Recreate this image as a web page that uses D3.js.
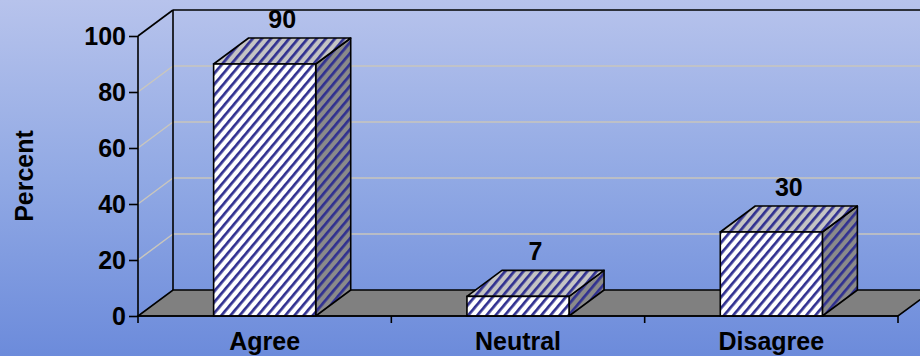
<!DOCTYPE html>
<html>
<head>
<meta charset="utf-8">
<script src="https://cdn.jsdelivr.net/npm/d3@7"></script>
<style>
  html, body { margin: 0; padding: 0; background: #8ca4e2; }
  svg { display: block; }
  text { font-family: "Liberation Sans", Arial, sans-serif; font-weight: bold; fill: #000; }
</style>
</head>
<body>
<svg id="chart" width="920" height="356"></svg>
<script>
// Survey responses (percent)
const categories = ["Agree", "Neutral", "Disagree"];
const values = [90, 7, 30];
const yTicks = [0, 20, 40, 60, 80, 100];
const yLabel = "Percent";

(function () {
const W = 920, H = 356;
const svg = d3.select("#chart");

// plot frame: front plane and depth offset of the 3D box
const plotLeft = 138, plotRight = 898, plotBottom = 316, plotTop = 36;
const depthX = 35, depthY = -26;

const x = d3.scaleBand().domain(categories).range([plotLeft, plotRight]).padding(0);
const y = d3.scaleLinear().domain([0, 100]).range([plotBottom, plotTop]);
const barW = x.bandwidth() * 0.403;

const defs = svg.append("defs");

// background gradient
const bg = defs.append("linearGradient").attr("id", "bg")
  .attr("x1", 0).attr("y1", 0).attr("x2", 0).attr("y2", 1);
bg.append("stop").attr("offset", "0%").attr("stop-color", "#b7c3ec");
bg.append("stop").attr("offset", "50%").attr("stop-color", "#91a9e4");
bg.append("stop").attr("offset", "100%").attr("stop-color", "#6c8bdb");
svg.append("rect").attr("width", W).attr("height", H).attr("fill", "url(#bg)");

// diagonal stripe fills for the bar faces
const period = 7.0;
function stripes(id, base) {
  const p = defs.append("pattern").attr("id", id)
    .attr("patternUnits", "userSpaceOnUse")
    .attr("width", period).attr("height", period)
    .attr("patternTransform", "rotate(40)");
  p.append("rect").attr("width", period).attr("height", period).attr("fill", base);
  p.append("rect").attr("x", 0).attr("width", 2.7).attr("height", period).attr("fill", "#303090");
}
stripes("sFront", "#ffffff");
stripes("sTop", "#c4c4c4");
stripes("sSide", "#8a8a8a");

const grid = svg.append("g");
const gridVals = yTicks.filter(v => v > 0 && v < 100);

// gridlines on the left wall and the back wall
grid.selectAll("line.side").data(gridVals).join("line").attr("class", "side")
  .attr("x1", plotLeft).attr("y1", d => y(d))
  .attr("x2", plotLeft + depthX).attr("y2", d => y(d) + depthY)
  .attr("stroke", "#c9c6bd").attr("stroke-width", 1.5);
grid.selectAll("line.back").data(gridVals).join("line").attr("class", "back")
  .attr("x1", plotLeft + depthX).attr("y1", d => y(d) + depthY)
  .attr("x2", W).attr("y2", d => y(d) + depthY)
  .attr("stroke", "#c9c6bd").attr("stroke-width", 1.5);

// frame edges of the walls
const frame = svg.append("g").attr("stroke", "#000").attr("stroke-width", 1.6).attr("fill", "none");
frame.append("line")
  .attr("x1", plotLeft).attr("y1", y(100)).attr("x2", plotLeft + depthX).attr("y2", y(100) + depthY);
frame.append("line")
  .attr("x1", plotLeft + depthX).attr("y1", y(100) + depthY).attr("x2", W).attr("y2", y(100) + depthY);
frame.append("line")
  .attr("x1", plotLeft + depthX).attr("y1", y(100) + depthY).attr("x2", plotLeft + depthX).attr("y2", y(0) + depthY);

// floor
svg.append("path")
  .attr("d", `M${plotLeft},${y(0)} L${plotRight},${y(0)} L${plotRight + depthX},${y(0) + depthY} L${plotLeft + depthX},${y(0) + depthY} Z`)
  .attr("fill", "#808080").attr("stroke", "#000").attr("stroke-width", 1.6);

// bars as 3D boxes
const bars = svg.append("g").selectAll("g").data(categories).join("g");
bars.each(function (c, i) {
  const g = d3.select(this);
  const x0 = x(c) + (x.bandwidth() - barW) / 2, x1 = x0 + barW;
  const yt = y(values[i]), yb = y(0);
  g.append("path")
    .attr("d", `M${x1},${yb} L${x1 + depthX},${yb + depthY} L${x1 + depthX},${yt + depthY} L${x1},${yt} Z`)
    .attr("fill", "url(#sSide)").attr("stroke", "#000").attr("stroke-width", 1.6).attr("stroke-linejoin", "round");
  g.append("path")
    .attr("d", `M${x0},${yt} L${x0 + depthX},${yt + depthY} L${x1 + depthX},${yt + depthY} L${x1},${yt} Z`)
    .attr("fill", "url(#sTop)").attr("stroke", "#000").attr("stroke-width", 1.6).attr("stroke-linejoin", "round");
  g.append("rect")
    .attr("x", x0).attr("y", yt).attr("width", barW).attr("height", yb - yt)
    .attr("fill", "url(#sFront)").attr("stroke", "#000").attr("stroke-width", 1.6);
  g.append("text")
    .attr("x", (x0 + x1) / 2 + depthX / 2).attr("y", yt + depthY - 10)
    .attr("text-anchor", "middle").attr("font-size", 25)
    .text(values[i]);
});

// value axis
const yAxis = svg.append("g").attr("transform", `translate(${plotLeft},0)`)
  .call(d3.axisLeft(y).tickValues(yTicks).tickSize(9).tickPadding(3));
yAxis.select(".domain").remove();
yAxis.selectAll(".tick line").attr("stroke", "#000").attr("stroke-width", 1.6);
yAxis.selectAll("text").attr("font-size", 25).attr("font-family", "Liberation Sans, Arial, sans-serif")
  .attr("font-weight", "bold").attr("fill", "#000");
svg.append("line").attr("x1", plotLeft).attr("x2", plotLeft).attr("y1", y(100)).attr("y2", y(0) + 7)
  .attr("stroke", "#000").attr("stroke-width", 1.6);

// category axis: boundary ticks and labels
const bounds = categories.map(c => x(c)).concat([plotRight]);
svg.append("g").selectAll("line").data(bounds.slice(1)).join("line")
  .attr("x1", d => d).attr("x2", d => d).attr("y1", y(0)).attr("y2", y(0) + 7)
  .attr("stroke", "#000").attr("stroke-width", 1.6);
svg.append("line").attr("x1", plotLeft).attr("x2", plotRight).attr("y1", y(0)).attr("y2", y(0))
  .attr("stroke", "#000").attr("stroke-width", 1.6);

const xAxis = svg.append("g").attr("transform", `translate(0,${y(0)})`)
  .call(d3.axisBottom(x).tickSize(0).tickPadding(16));
xAxis.select(".domain").remove();
xAxis.selectAll("text").attr("font-size", 25).attr("font-family", "Liberation Sans, Arial, sans-serif")
  .attr("font-weight", "bold").attr("fill", "#000");

// axis title
svg.append("text")
  .attr("transform", `translate(33,176) rotate(-90)`)
  .attr("text-anchor", "middle").attr("font-size", 25)
  .text(yLabel);
})();
</script>
</body>
</html>
